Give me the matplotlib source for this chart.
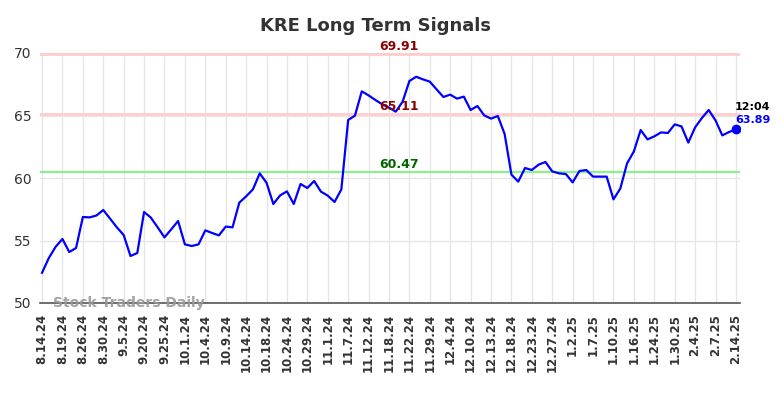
import matplotlib
matplotlib.use("Agg")
import matplotlib.pyplot as plt

tick_labels = ["8.14.24", "8.19.24", "8.26.24", "8.30.24", "9.5.24", "9.20.24", "9.25.24",
               "10.1.24", "10.4.24", "10.9.24", "10.14.24", "10.18.24", "10.24.24", "10.29.24",
               "11.1.24", "11.7.24", "11.12.24", "11.18.24", "11.22.24", "11.29.24", "12.4.24",
               "12.10.24", "12.13.24", "12.18.24", "12.23.24", "12.27.24", "1.2.25", "1.7.25",
               "1.10.25", "1.16.25", "1.24.25", "1.30.25", "2.4.25", "2.7.25", "2.14.25"]

values = [52.42, 53.6, 54.5, 55.12, 54.08, 54.4, 56.88, 56.85, 57.0, 57.44,
          56.75, 56.05, 55.44, 53.76, 54.0, 57.28, 56.83, 56.05, 55.25, 55.9,
          56.56, 54.69, 54.56, 54.69, 55.81, 55.6, 55.41, 56.11, 56.05, 58.03,
          58.53, 59.09, 60.37, 59.62, 57.92, 58.61, 58.93, 57.92, 59.52, 59.2,
          59.76, 58.91, 58.59, 58.08, 59.09, 64.64, 64.99, 66.93, 66.61, 66.24,
          65.9, 65.63, 65.31, 66.1, 67.76, 68.1, 67.89, 67.71, 67.09, 66.48,
          66.67, 66.35, 66.51, 65.44, 65.76, 65.01, 64.75, 64.96, 63.52, 60.27,
          59.71, 60.8, 60.64, 61.07, 61.28, 60.53, 60.37, 60.32, 59.65, 60.56,
          60.64, 60.11, 60.11, 60.11, 58.29, 59.15, 61.17, 62.13, 63.84, 63.09,
          63.33, 63.65, 63.6, 64.29, 64.13, 62.83, 64.05, 64.8, 65.44, 64.61,
          63.41, 63.68, 63.89]

upper_signal = 69.91
mid_signal = 65.11
lower_signal = 60.47
last_time = "12:04"
last_value = 63.89

fig = plt.figure(figsize=(7.84, 3.98), dpi=100)
ax = fig.add_axes([40/784, 1-303/398, 700/784, 250/398])

x = list(range(len(values)))
ax.set_xlim(-0.3, 102.6)
ax.set_ylim(50, 70)

ax.set_xticks(list(range(0, len(values), 3)))
ax.set_xticklabels(tick_labels, rotation=90, fontsize=8.5, fontweight="bold", color="#333333")
ax.set_yticks([50, 55, 60, 65, 70])
ax.set_yticklabels(["50", "55", "60", "65", "70"], fontsize=10, color="#333333")
ax.tick_params(axis="both", length=0, pad=6)
ax.tick_params(axis="x", pad=8)

ax.grid(True, color="#e6e6e6", linewidth=1)
ax.set_axisbelow(True)
for s in ["top", "right", "left"]:
    ax.spines[s].set_visible(False)
ax.spines["bottom"].set_color("#555555")
ax.spines["bottom"].set_linewidth(1.2)

ax.axhline(upper_signal, color="#ffcccc", linewidth=2, zorder=1.5)
ax.axhline(mid_signal, color="#ffcccc", linewidth=2, zorder=1.5)
ax.axhline(lower_signal, color="#90ee90", linewidth=1.6, zorder=1.5)

ax.plot(x, values, color="#0000ff", linewidth=1.6, zorder=3)
ax.plot([x[-1]], [values[-1]], "o", color="#0000ff", markersize=6, zorder=4)

lx = 52.5
ax.text(lx, upper_signal + 0.08, f"{upper_signal:.2f}", color="#8b0000", fontsize=9,
        fontweight="bold", ha="center", va="bottom", zorder=5)
ax.text(lx, mid_signal + 0.08, f"{mid_signal:.2f}", color="#8b0000", fontsize=9,
        fontweight="bold", ha="center", va="bottom", zorder=5)
ax.text(lx, lower_signal + 0.08, f"{lower_signal:.2f}", color="#006400", fontsize=9,
        fontweight="bold", ha="center", va="bottom", zorder=5)

ax.text(x[-1] + 2.5, last_value + 1.4, last_time, color="black", fontsize=8,
        fontweight="bold", ha="center", va="bottom", clip_on=False)
ax.text(x[-1] + 2.5, last_value + 0.35, f"{last_value:.2f}", color="#0000ff", fontsize=8,
        fontweight="bold", ha="center", va="bottom", clip_on=False)

ax.text(1.6, 50.0, "Stock Traders Daily", color="#999999", fontsize=10,
        fontweight="bold", ha="left", va="center", alpha=0.9, zorder=5)

fig.text(375/784, 1-26/398, "KRE Long Term Signals", fontsize=13, fontweight="bold",
         color="#333333", ha="center", va="center")

fig.savefig("out.png", dpi=100)
